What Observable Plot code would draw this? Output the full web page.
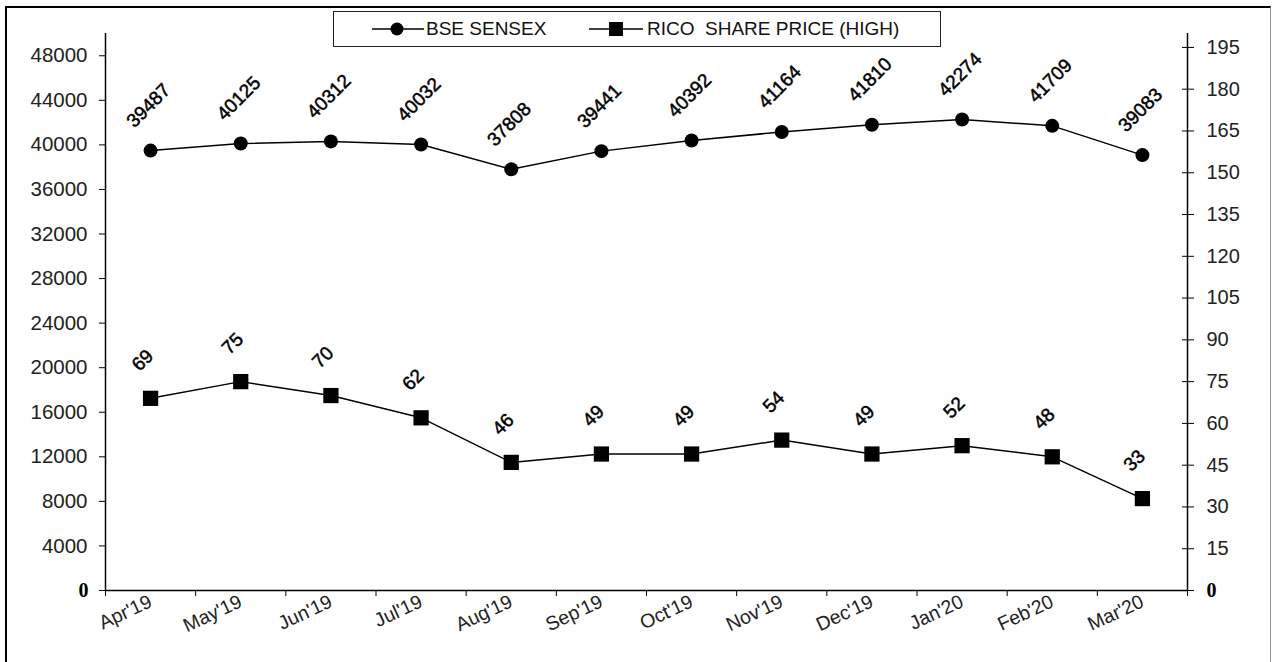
<!DOCTYPE html>
<html>
<head>
<meta charset="utf-8">
<script src="https://cdn.jsdelivr.net/npm/d3@7"></script>
<script src="https://cdn.jsdelivr.net/npm/@observablehq/plot@0.6"></script>
<style>
  html, body { margin: 0; padding: 0; background: #fff; }
  body { width: 1273px; height: 662px; position: relative; overflow: hidden; font-family: "Liberation Sans", Arial, sans-serif; }
  #frame { position: absolute; left: 5px; top: 6px; width: 1266px; height: 700px; border-left: 2px solid #000; border-top: 2px solid #000; border-right: 1px solid #999; box-sizing: border-box; pointer-events: none; }
  #chart { position: absolute; left: 0; top: 0; }
  #legend { position: absolute; left: 333px; top: 11px; width: 608px; height: 36px; border: 1px solid #222; box-sizing: border-box; background: #fff; font-size: 19px; color: #111; }
  #legend .sw { position: absolute; top: 9px; display: block; }
  #legend .lab { position: absolute; top: 6px; line-height: 22px; white-space: pre; }
</style>
</head>
<body>
<div id="chart"></div>
<div id="frame"></div>
<div id="legend">
  <svg class="sw" style="left:38px" width="52" height="16"><line x1="0" y1="8" x2="52" y2="8" stroke="#000" stroke-width="1.5"/><circle cx="25" cy="8" r="6.5" fill="#000"/></svg>
  <span class="lab" style="left:92px">BSE SENSEX</span>
  <svg class="sw" style="left:255px" width="54" height="16"><line x1="0" y1="8" x2="54" y2="8" stroke="#000" stroke-width="1.5"/><rect x="20" y="1" width="14" height="14" fill="#000"/></svg>
  <span class="lab" style="left:313px">RICO  SHARE PRICE (HIGH)</span>
</div>
<script>
const months = ["Apr'19","May'19","Jun'19","Jul'19","Aug'19","Sep'19","Oct'19","Nov'19","Dec'19","Jan'20","Feb'20","Mar'20"];
const sensex = [39487, 40125, 40312, 40032, 37808, 39441, 40392, 41164, 41810, 42274, 41709, 39083];
const rico = [69, 75, 70, 62, 46, 49, 49, 54, 49, 52, 48, 33];
const leftTicks = d3.range(0, 48001, 4000);
const rightTicks = d3.range(0, 196, 15);
const leftMax = 50000, rightMax = 200;
const k = leftMax / rightMax; // secondary axis factor

const sRows = months.map((m, i) => ({pos: i + 0.5, month: m, value: sensex[i]}));
const rRows = months.map((m, i) => ({pos: i + 0.5, month: m, value: rico[i], scaled: rico[i] * k}));

const tickFont = "Liberation Sans, Arial, sans-serif";
const zeroFont = "Liberation Serif, Times New Roman, serif";

const chart = Plot.plot({
  width: 1273,
  height: 662,
  marginLeft: 105,
  marginRight: 86,
  marginTop: 33,
  marginBottom: 72,
  style: {background: "transparent", color: "#000", fontFamily: tickFont},
  x: {type: "linear", domain: [0, 12]},
  y: {domain: [0, leftMax]},
  marks: [
    // axis lines
    Plot.ruleX([0], {stroke: "#000", strokeWidth: 1.5}),
    Plot.ruleX([12], {stroke: "#000", strokeWidth: 1.5}),
    Plot.ruleY([0], {stroke: "#000", strokeWidth: 1.5}),
    // left axis
    Plot.axisY({anchor: "left", ticks: leftTicks.filter(d => d > 0), tickSize: 6, tickPadding: 12, fontSize: 20.5, fill: "#222", label: null, tickFormat: d => String(d)}),
    Plot.axisY({anchor: "left", ticks: [0], tickSize: 6, tickPadding: 11, fontSize: 20, fontWeight: "bold", fontFamily: zeroFont, label: null, tickFormat: d => String(d)}),
    // right axis (secondary scale)
    Plot.axisY({anchor: "right", ticks: rightTicks.filter(d => d > 0).map(d => d * k), tickSize: 6, tickPadding: 13, fontSize: 20, fill: "#222", label: null, tickFormat: d => String(Math.round(d / k))}),
    Plot.axisY({anchor: "right", ticks: rightTicks.map(d => d * k), tickSize: -6, tickFormat: () => "", label: null}),
    Plot.axisY({anchor: "right", ticks: [0], tickSize: 6, tickPadding: 13, fontSize: 20, fontWeight: "bold", fontFamily: zeroFont, label: null, tickFormat: d => String(d)}),
    // x axis ticks at category boundaries
    Plot.axisX({anchor: "bottom", ticks: d3.range(0, 13), tickSize: 6, tickFormat: () => "", label: null}),
    Plot.axisX({anchor: "bottom", ticks: months.map((m, i) => i + 0.5), tickSize: 0, tickPadding: 10, tickRotate: -25, fontSize: 19.5, fill: "#222", label: null, tickFormat: d => months[Math.floor(d)]}),
    // BSE SENSEX series
    Plot.line(sRows, {x: "pos", y: "value", stroke: "#000", strokeWidth: 1.5}),
    Plot.dot(sRows, {x: "pos", y: "value", r: 7, fill: "#000", symbol: "circle"}),
    Plot.text(sRows, {x: "pos", y: "value", text: d => String(d.value), rotate: -45, dy: -45, dx: -2, fontSize: 19, fill: "#000", stroke: "#000", strokeWidth: 0.5}),
    // RICO series on secondary axis
    Plot.line(rRows, {x: "pos", y: "scaled", stroke: "#000", strokeWidth: 1.5}),
    Plot.dot(rRows, {x: "pos", y: "scaled", r: 8.6, fill: "#000", symbol: "square"}),
    Plot.text(rRows, {x: "pos", y: "scaled", text: d => String(d.value), rotate: -45, dy: -38, dx: -8, fontSize: 19, fill: "#000", stroke: "#000", strokeWidth: 0.5})
  ]
});
document.getElementById("chart").appendChild(chart);
</script>
</body>
</html>
